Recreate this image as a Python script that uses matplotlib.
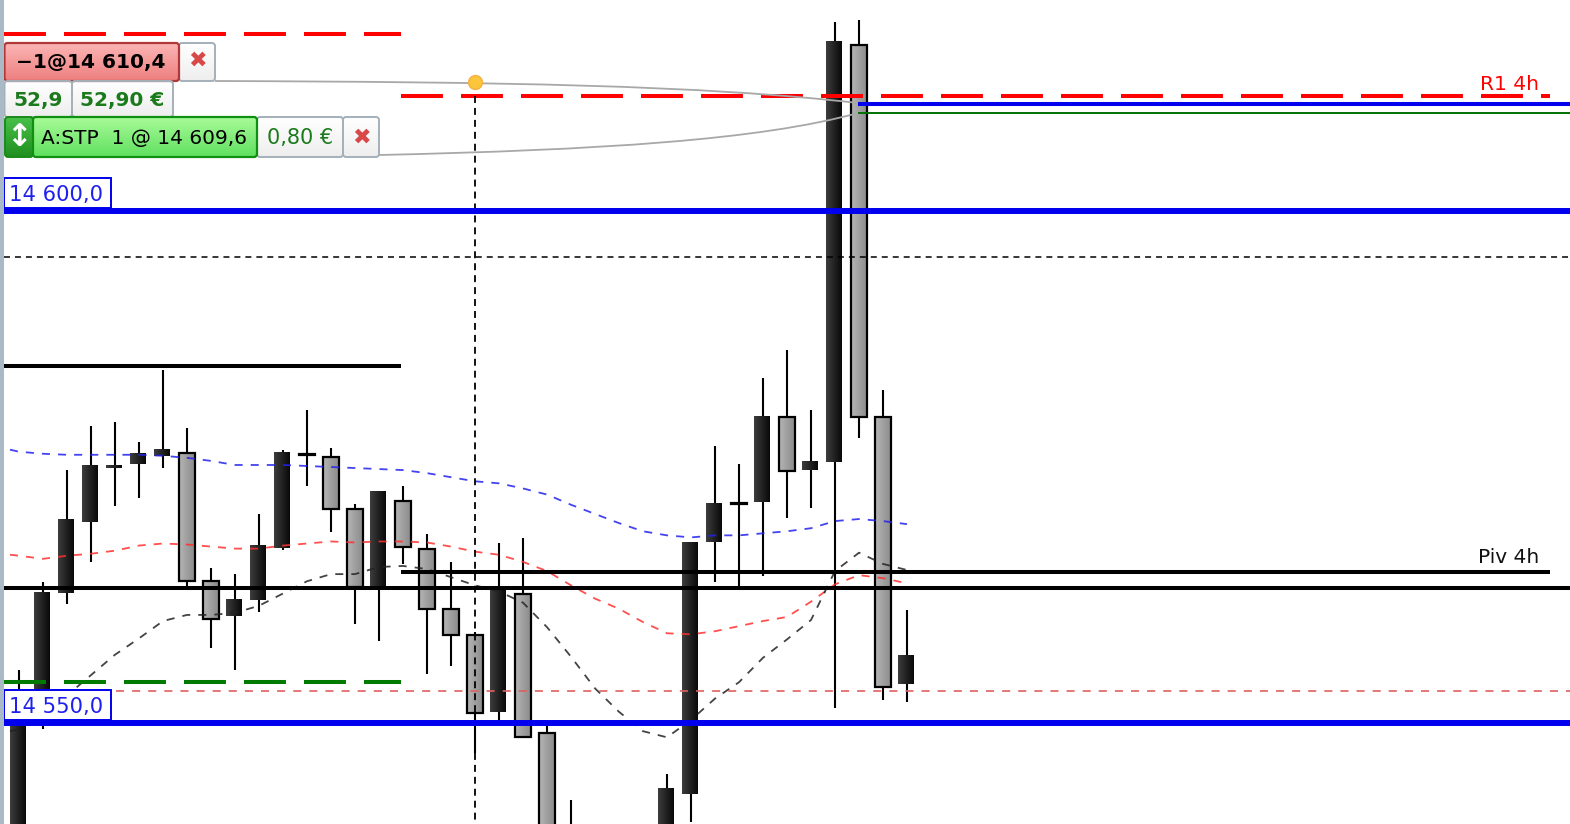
import numpy as np
import matplotlib
matplotlib.use('Agg')
import matplotlib.pyplot as plt
from matplotlib.colors import LinearSegmentedColormap
from matplotlib.patches import FancyBboxPatch, Rectangle, PathPatch
from matplotlib.path import Path

plt.rcParams['lines.scale_dashes'] = False
plt.rcParams['font.family'] = ['DejaVu Sans']

nan = float('nan')

# candles, one entry per bar (off-chart bars are nan)
wick_high = [14555.0, 14563.6, 14574.6, 14578.9, 14579.3, 14577.4, 14584.4, 14578.7, 14565.0, 14564.4,
             14570.3, 14576.6, 14580.5, 14576.8, 14571.3, 14572.5, 14573.0, 14568.3, 14565.6, 14558.7,
             14567.5, 14567.9, 14549.5, 14542.3, nan, nan, nan, 14544.8, 14567.5, 14577.0,
             14575.2, 14583.6, 14586.4, 14580.5, 14618.5, 14618.7, 14582.5, 14560.9]
body_top = [14552.1, 14562.6, 14569.7, 14575.0, 14575.0, 14576.2, 14576.6, 14576.3, 14563.7, 14561.9,
            14567.2, 14576.4, 14576.2, 14575.9, 14570.8, 14572.5, 14571.6, 14566.9, 14561.0, 14558.4,
            14562.8, 14562.5, 14548.8, 14539.3, nan, nan, nan, 14543.4, 14567.5, 14571.3,
            14571.4, 14579.9, 14579.8, 14575.4, 14616.6, 14616.3, 14579.8, 14556.4]
body_bottom = [14536.4, 14550.6, 14562.5, 14569.5, 14574.8, 14575.2, 14576.0, 14563.7, 14560.0, 14560.3,
               14561.9, 14567.0, 14576.1, 14570.8, 14563.1, 14563.0, 14567.1, 14561.0, 14558.4, 14550.8,
               14550.9, 14548.4, 14536.4, 14536.4, nan, nan, nan, 14536.4, 14542.8, 14567.5,
               14571.3, 14571.5, 14574.5, 14574.6, 14575.4, 14579.8, 14553.3, 14553.6]
wick_low = [14535.4, 14549.2, 14561.5, 14565.6, 14571.1, 14571.9, 14574.8, 14563.0, 14557.2, 14555.0,
            14560.7, 14566.8, 14573.0, 14568.5, 14559.5, 14557.8, 14565.4, 14554.6, 14555.4, 14546.9,
            14550.1, 14548.4, 14535.4, 14535.4, nan, nan, nan, 14535.4, 14540.1, 14563.6,
            14563.1, 14564.2, 14569.9, 14570.9, 14551.3, 14577.7, 14552.1, 14551.9]
is_dark = [1, 1, 1, 1, 1, 1, 1, 0, 0, 1, 1, 1, 0, 0, 0, 1, 0, 0, 0, 0,
           1, 0, 0, 0, 0, 0, 0, 1, 1, 1, 0, 1, 0, 1, 1, 0, 0, 1]

# moving averages, one value per bar; they start a little left of the first bar
ma_bars = [-0.375] + list(range(38))
ma_blue = [14576.6, 14576.4, 14576.2, 14576.1, 14576.1, 14576.1, 14576.1, 14576.0, 14575.8, 14575.5, 14575.1,
           14575.1, 14575.1, 14575.0, 14574.9, 14574.8, 14574.7, 14574.6, 14574.3, 14573.9, 14573.5,
           14573.3, 14572.8, 14572.2, 14571.2, 14570.3, 14569.4, 14568.6, 14568.2, 14568.0, 14568.2,
           14568.2, 14568.4, 14568.6, 14568.9, 14569.6, 14569.8, 14569.6, 14569.3]
ma_red = [14566.3, 14566.2, 14565.9, 14566.2, 14566.4, 14566.7, 14567.2, 14567.4, 14567.3, 14567.1, 14566.9,
          14566.9, 14567.2, 14567.4, 14567.6, 14567.5, 14567.6, 14567.6, 14567.5, 14567.1, 14566.6,
          14566.3, 14565.6, 14564.7, 14563.3, 14562.0, 14561.0, 14559.7, 14558.6, 14558.5, 14558.8,
          14559.3, 14559.8, 14560.2, 14561.7, 14563.4, 14564.3, 14564.0, 14563.5]
ma_black = [14549.0, 14549.2, 14550.9, 14552.5, 14554.5, 14556.5, 14558.1, 14559.8, 14560.4, 14560.4, 14560.6,
            14561.3, 14562.5, 14563.7, 14564.4, 14564.4, 14565.1, 14565.2, 14564.9, 14564.1, 14563.3,
            14562.7, 14561.6, 14559.2, 14556.3, 14553.2, 14550.9, 14549.0, 14548.4, 14550.1, 14552.2,
            14553.8, 14556.2, 14558.0, 14559.9, 14564.7, 14566.5, 14565.4, 14564.8]

# horizontal levels
r2_level = 14617.4
r1_level = 14611.3
order_level = 14610.5
stop_level = 14609.6
blue_levels = [14600.0, 14549.8]
dashed_level = 14595.5
prev_high = 14584.8
pivot_level = 14564.6
black_level = 14563.0
prev_low = 14553.8
red_thin_level = 14552.9
entry_bar = 19
entry_price = 14612.6

px_per_bar = 24.0
px_per_point = 10.2


def bar_at(px):
    return (px - 19) / px_per_bar


fig = plt.figure(figsize=(15.7, 8.24), dpi=100, facecolor='white')
ax = fig.add_axes([0, 0, 1, 1])
ax.set_axis_off()

dark_cmap = LinearSegmentedColormap.from_list('dark', ['#3c3c3c', '#0a0a0a'])
gray_cmap = LinearSegmentedColormap.from_list('gray', ['#b4b4b4', '#8c8c8c'])
grad = np.linspace(0, 1, 16).reshape(1, -1)

# Candles
for i in range(len(wick_high)):
    if np.isnan(wick_high[i]):
        continue
    ax.plot([i, i], [wick_low[i], wick_high[i]], color='black', lw=1.5, zorder=2, solid_capstyle='butt')
    if is_dark[i]:
        x0, x1 = i - 9 / px_per_bar, i + 7 / px_per_bar
        ax.imshow(grad, extent=[x0, x1, body_bottom[i], body_top[i]], cmap=dark_cmap, aspect='auto',
                  zorder=3, interpolation='bilinear')
    else:
        x0, x1 = i - 8 / px_per_bar, i + 8 / px_per_bar
        ax.imshow(grad, extent=[x0, x1, body_bottom[i], body_top[i]], cmap=gray_cmap, aspect='auto',
                  zorder=3, interpolation='bilinear')
        ax.add_patch(Rectangle((x0, body_bottom[i]), x1 - x0, body_top[i] - body_bottom[i], fill=False,
                               edgecolor='black', lw=1.6, zorder=4))

# Levels
left = bar_at(4)
split = bar_at(401)
line_end = bar_at(1550)
right = bar_at(1570)
big_dash = (0, (30.2, 13.0))
ax.plot([left, split], [r2_level] * 2, color='#ff0000', lw=2.9, ls=big_dash, zorder=6)
ax.plot([split, line_end], [r1_level] * 2, color='#ff0000', lw=2.9, ls=big_dash, zorder=6)
ax.plot([left, split], [prev_low] * 2, color='#007a00', lw=2.9, ls=big_dash, zorder=6)
ax.plot([left, split], [prev_high] * 2, color='black', lw=2.9, zorder=6, solid_capstyle='butt')
ax.plot([split, line_end], [pivot_level] * 2, color='black', lw=2.9, zorder=6, solid_capstyle='butt')
ax.plot([left, right], [black_level] * 2, color='black', lw=2.9, zorder=6, solid_capstyle='butt')
ax.plot([left, right], [dashed_level] * 2, color='black', lw=1.1, ls=(0, (4.3, 3.6)), zorder=6)
ax.plot([bar_at(116), right], [red_thin_level] * 2, color='#e06060', lw=1.2, ls=(0, (5.8, 5.8)), zorder=6)
for lvl in blue_levels:
    ax.plot([left, right], [lvl] * 2, color='#0000ee', lw=4.3, zorder=7, solid_capstyle='butt')
ax.plot([35 - 1 / px_per_bar, right], [order_level] * 2, color='#0000ee', lw=2.9, zorder=7, solid_capstyle='butt')
ax.plot([35 - 1 / px_per_bar, right], [stop_level] * 2, color='#007000', lw=1.4, zorder=7, solid_capstyle='butt')

# Moving averages
ma_dash = (0, (5.8, 5.8))
ax.plot(ma_bars, ma_blue, color='#2222ee', lw=1.3, ls=ma_dash, alpha=0.85, zorder=5)
ax.plot(ma_bars, ma_red, color='#ff3030', lw=1.3, ls=ma_dash, alpha=0.85, zorder=5)
ax.plot(ma_bars, ma_black, color='#222222', lw=1.3, ls=ma_dash, alpha=0.85, zorder=5)

# Entry marker
ax.plot([entry_bar, entry_bar], [r1_level, 14535.0], color='black', lw=1.3, ls=(0, (5.0, 3.6)), zorder=6)

ax.text(bar_at(1539), r1_level + 1.1, 'R1 4h', color='#ff0000', fontsize=14.5, ha='right', va='center', zorder=8)
ax.text(bar_at(1539), pivot_level + 1.4, 'Piv 4h', color='#111111', fontsize=14.5, ha='right', va='center', zorder=8)

ax.set_xlim(bar_at(0), bar_at(1570))
ax.set_ylim(14600 - 613 / px_per_point, 14600 + 211 / px_per_point)

# Order widgets sit on top, laid out in screen pixels
ui = fig.add_axes([0, 0, 1, 1], facecolor='none')
ui.set_axis_off()


def box(x0, y0, x1, y1, top, bottom, edge, lw=1.4):
    cmap = LinearSegmentedColormap.from_list('b', [top, bottom])
    patch = FancyBboxPatch((x0, y0), x1 - x0, y1 - y0, boxstyle='round,pad=0,rounding_size=3',
                           facecolor='none', edgecolor=edge, lw=lw, zorder=12)
    ui.add_patch(patch)
    im = ui.imshow(np.linspace(0, 1, 32).reshape(-1, 1), extent=[x0, x1, y1, y0], cmap=cmap, aspect='auto', zorder=11)
    im.set_clip_path(patch)


def label(x, y, s, color='black', size=14.5, weight='normal', ha='center'):
    ui.text(x, y, s, color=color, fontsize=size, fontweight=weight, ha=ha, va='center', zorder=13)


link = '#a8a8a8'
for verts in ([(215, 81), (500, 82), (700, 85), (858, 103)], [(379, 155), (600, 150), (760, 140), (858, 113)]):
    path = Path(verts, [Path.MOVETO, Path.CURVE4, Path.CURVE4, Path.CURVE4])
    ui.add_patch(PathPatch(path, fill=False, edgecolor=link, lw=1.3, zorder=9))
ui.plot([474.5], [82], 'o', ms=10, mfc='#fcc63c', mec='#f4b040', mew=1, zorder=10)

ui.add_patch(Rectangle((0, 0), 3.5, 824, facecolor='#a9b9c5', edgecolor='none', zorder=14))

light = ('#ffffff', '#eeeeee')
edge_gray = '#a4b0ba'
dark_green = '#1b7a1b'

# short position row
box(179, 43, 215, 81, light[0], light[1], edge_gray)
box(4.5, 43, 179, 81, '#fbb4b4', '#ee8080', '#b03838', 1.6)
label(91, 62, '\u22121@14 610,4', weight='bold', size=14.5)
label(197, 61, '\u2716', color='#d84848', size=16)

# P/L row
box(4.5, 81, 72, 117, light[0], light[1], edge_gray)
box(72, 81, 173, 117, light[0], light[1], edge_gray)
label(38, 100, '52,9', color=dark_green, weight='bold')
label(122, 100, '52,90 \u20ac', color=dark_green, weight='bold')

# stop row
box(257, 117, 343, 157, light[0], light[1], edge_gray)
box(343, 117, 379, 157, light[0], light[1], edge_gray)
box(5, 117, 33, 157, '#48c048', '#209020', '#1a8a1a')
box(33, 117, 257, 157, '#a8fa98', '#60e060', '#109010', 1.6)
label(19, 137, '\u2195', color='white', size=22, weight='bold')
label(144, 138, 'A:STP  1 @ 14 609,6', size=14.5)
label(300, 138, '0,80 \u20ac', color=dark_green, size=15)
label(361, 138, '\u2716', color='#d84848', size=16)

# price tags
for y0, y1, s in [(177.5, 208, '14 600,0'), (689.5, 720, '14 550,0')]:
    ui.add_patch(Rectangle((3.5, y0), 107, y1 - y0, facecolor='white', edgecolor='#0000ee', lw=1.4, zorder=11))
    label(56, (y0 + y1) / 2 + 2.5, s, color='#2020ee', size=15.2)

ui.set_xlim(0, 1570)
ui.set_ylim(824, 0)

fig.savefig('out.png', dpi=100)
